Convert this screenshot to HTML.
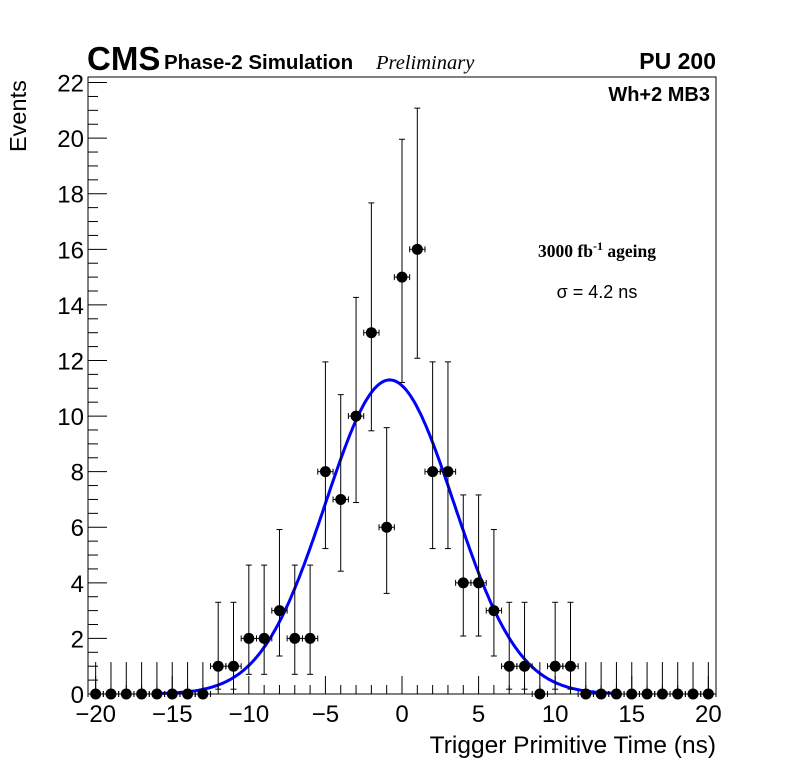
<!DOCTYPE html>
<html><head><meta charset="utf-8"><style>
body{margin:0;background:#fff;}
svg{display:block;font-family:"Liberation Sans",sans-serif;}
</style></head><body>
<svg id="chart" width="796" height="772" viewBox="0 0 796 772" xmlns="http://www.w3.org/2000/svg">
<rect width="796" height="772" fill="#fff"/>
<g id="axes"></g>
<g id="marks"></g>
<text x="87" y="70" font-size="33" font-weight="bold">CMS</text>
<text x="164" y="69" font-size="20.5" font-weight="bold">Phase-2 Simulation</text>
<text x="376" y="69" font-size="20.5" font-style="italic" font-family="Liberation Serif,serif">Preliminary</text>
<text x="716" y="69" font-size="23" font-weight="bold" text-anchor="end">PU 200</text>
<text x="710" y="101" font-size="20" font-weight="bold" text-anchor="end">Wh+2 MB3</text>
<text x="597" y="257" font-size="17.5" font-weight="bold" text-anchor="middle" font-family="Liberation Serif,serif">3000 fb<tspan dy="-7" font-size="12">-1</tspan><tspan dy="7"> ageing</tspan></text>
<text x="597" y="298" font-size="18" text-anchor="middle">σ = 4.2 ns</text>
<text x="716" y="753" font-size="24.5" text-anchor="end">Trigger Primitive Time (ns)</text>
<text transform="translate(26,152) rotate(-90)" font-size="23.5">Events</text>
</svg>
<script>
const bins=[-20,-19,-18,-17,-16,-15,-14,-13,-12,-11,-10,-9,-8,-7,-6,-5,-4,-3,-2,-1,0,1,2,3,4,5,6,7,8,9,10,11,12,13,14,15,16,17,18,19,20];
const counts=[0,0,0,0,0,0,0,0,1,1,2,2,3,2,2,8,7,10,13,6,15,16,8,8,4,4,3,1,1,0,1,1,0,0,0,0,0,0,0,0,0];
const xTicks=[-20,-15,-10,-5,0,5,10,15,20];
const yTicks=[0,2,4,6,8,10,12,14,16,18,20,22];
const fitParams=[11.3,-0.8,4.2];
const poisLo={0:0,1:0.173,2:0.708,3:1.367,4:2.086,6:3.62,7:4.419,8:5.232,10:6.891,13:9.47,15:11.21,16:12.08};
const poisHi={0:1.148,1:3.3,2:4.638,3:5.918,4:7.163,6:9.584,7:10.77,8:11.95,10:14.27,13:17.67,15:19.96,16:21.08};
const L=88,R=716,T=77,B=694,XMIN=-20.5,XMAX=20.5,YMIN=0,YMAX=22.2;
const xs=v=>L+(v-XMIN)/(XMAX-XMIN)*(R-L);
const ys=v=>B-(v-YMIN)/(YMAX-YMIN)*(B-T);
const NS="http://www.w3.org/2000/svg";
function mk(tag,attrs,parent){const e=document.createElementNS(NS,tag);for(const k in attrs)e.setAttribute(k,attrs[k]);parent.appendChild(e);return e;}
const ax=document.getElementById('axes'),mg=document.getElementById('marks');
const frame=mk('rect',{x:L,y:T,width:R-L,height:B-T,fill:'none',stroke:'#000','stroke-width':1},ax);


for(let v=-20;v<=20;v++){const x=xs(v);const len=v%5===0?18:9;
 mk('line',{x1:x,x2:x,y1:B,y2:B-len,stroke:'#000'},ax);}
xTicks.forEach(v=>{const t=mk('text',{x:xs(v),y:B+28,'font-size':24,'text-anchor':'middle'},ax);t.textContent=v<0?'\u2212'+(-v):v;
 
 });
for(let v=0;v<=22;v+=0.5){const y=ys(v);const len=Math.abs(v%2)<1e-9?19:10;
 mk('line',{x1:L,x2:L+len,y1:y,y2:y,stroke:'#000'},ax);}
yTicks.forEach(v=>{const t=mk('text',{x:L-4,y:ys(v)+9,'font-size':24,'text-anchor':'end'},ax);t.textContent=v;
 
 });
let d='';for(let v=-16;v<=14;v+=0.1){const y=fitParams[0]*Math.exp(-0.5*Math.pow((v-fitParams[1])/fitParams[2],2));d+=(d?'L':'M')+xs(v).toFixed(1)+','+ys(y).toFixed(1);}
const fit=mk('path',{d:d,fill:'none',stroke:'#0000ff','stroke-width':3},mg);


bins.forEach((b,i)=>{const n=counts[i];const x=xs(b),y=ys(n);
 const g=mk('g',{},mg);
 
 
 const lo=n-(poisLo[n]!==undefined?poisLo[n]:n-Math.sqrt(n)),hi=(poisHi[n]!==undefined?poisHi[n]:n+Math.sqrt(n))-n;
 mk('line',{x1:x,x2:x,y1:ys(n+hi),y2:ys(n-lo),stroke:'#000'},g);
 mk('line',{x1:xs(b-0.5),x2:xs(b+0.5),y1:y,y2:y,stroke:'#000'},g);
 mk('line',{x1:xs(b-0.5),x2:xs(b-0.5),y1:y-3,y2:y+3,stroke:'#000'},g);
 mk('line',{x1:xs(b+0.5),x2:xs(b+0.5),y1:y-3,y2:y+3,stroke:'#000'},g);
 if(n>0){mk('line',{x1:x-3,x2:x+3,y1:ys(n+hi),y2:ys(n+hi),stroke:'#000'},g);mk('line',{x1:x-3,x2:x+3,y1:ys(n-lo),y2:ys(n-lo),stroke:'#000'},g);}
 mk('circle',{cx:x,cy:y,r:5.5,fill:'#000'},g);});
</script>
</body></html>
